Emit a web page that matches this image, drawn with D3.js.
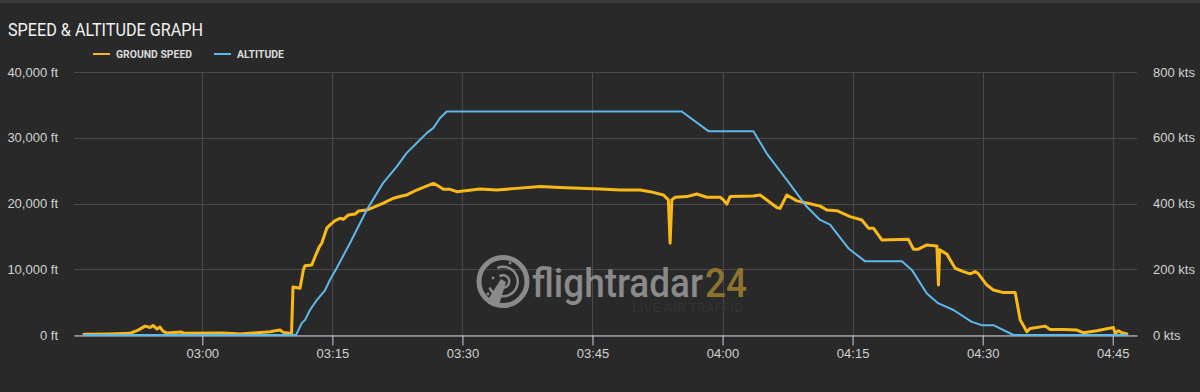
<!DOCTYPE html>
<style>
    body { margin: 0; background: #292929; }
    svg { display: block; font-family: Roboto, "Noto Sans", sans-serif; }
</style>
<svg width="1200" height="392"></svg>
<script src="https://d3js.org/d3.v7.min.js"></script>
<script>

    // times are minutes after 00:00 UTC
    var altTime = [166.35, 190.81, 191.47, 191.85, 192.42, 193.2, 194.15, 194.73, 195.5, 197.04, 198.96,
        200.84, 202.42, 203.58, 204.73, 205.88, 206.65, 207.42, 208.19, 235.3, 238.37, 243.56, 245.1,
        247.41, 249.72, 251.25, 252.4, 254.5, 256.44, 260.68, 261.83, 263.56, 264.9, 266.63, 268.75,
        269.9, 271.24, 273.55, 286.6];
    var altFeet = [0, 0, 1800, 2300, 3800, 5300, 6800, 8400, 10200, 14000, 19000,
        23100, 25600, 27700, 29200, 30700, 31500, 33000, 34000, 34000, 31000, 31000, 27600,
        23600, 19500, 17500, 16800, 13200, 11200, 11200, 9900, 6300, 4800, 3800, 2000,
        1500, 1500, 0, 0];

    var speedTime = [166.35, 169.35, 171.66, 172.59, 173.4, 173.97, 174.32, 174.78, 175.12, 175.46, 175.93,
        177.54, 178.0, 182.5, 184.35, 187.81, 188.96, 189.34, 190.12, 190.29, 190.46, 191.27, 191.65,
        191.85, 192.62, 193.0, 193.5, 193.77, 194.35, 194.73, 195.31, 195.89, 196.26, 196.84, 197.62,
        198.0, 198.96, 199.73, 200.88, 202.03, 203.0, 203.58, 204.73, 205.49, 206.65, 207.04, 207.8,
        208.57, 209.35, 210.11, 212.03, 213.96, 216.27, 218.95, 221.26, 225.87, 228.18, 230.49, 231.64,
        233.18, 233.75, 233.95, 234.15, 234.53, 235.88, 237.03, 238.18, 239.72, 240.1, 240.49, 240.87,
        243.56, 244.33, 246.26, 246.64, 247.41, 248.57, 250.1, 251.25, 252.03, 253.18, 254.71, 256.06,
        256.83, 257.4, 258.37, 261.44, 262.02, 262.59, 263.56, 264.72, 264.9, 265.04, 265.87, 266.83,
        267.78, 268.56, 269.13, 269.51, 270.48, 271.24, 272.4, 273.75, 274.33, 275.1, 275.48, 277.21,
        277.78, 279.32, 280.86, 281.62, 283.17, 285.08, 285.28, 285.66, 286.05, 286.63];
    var speedKts = [2, 3, 5, 15, 27, 23, 29, 18, 24, 12, 6,
        9, 5, 6, 3, 10, 15, 8, 5, 6, 146, 142, 198,
        211, 213, 238, 269, 279, 325, 335, 348, 355, 352, 365, 368,
        377, 380, 388, 401, 416, 423, 426, 441, 449, 461, 456, 443,
        443, 436, 438, 444, 441, 446, 452, 449, 444, 441, 441, 436,
        426, 411, 279, 411, 419, 421, 429, 419, 419, 411, 398, 421,
        423, 426, 388, 385, 426, 408, 399, 392, 380, 378, 360, 350,
        325, 325, 289, 291, 261, 261, 274, 271, 152, 259, 246, 203,
        193, 186, 193, 186, 152, 137, 129, 129, 46, 10, 20, 27,
        17, 17, 15, 7, 13, 23, 5, 13, 7, 3];

    var timeTicks = ["03:00", "03:15", "03:30", "03:45", "04:00", "04:15", "04:30", "04:45"];
    var altTicks = [0, 10000, 20000, 30000, 40000];
    var speedTicks = [0, 200, 400, 600, 800];

    var svg = d3.select("svg");
    var plotLeft = 74, plotRight = 1137, plotTop = 72, plotBottom = 335;

    function toDate(m) { return new Date(Date.UTC(2020, 0, 1) + m * 60000); }
    var parseTick = d3.utcParse("%H:%M");
    function tickDate(s) { var d = parseTick(s); return new Date(Date.UTC(2020, 0, 1, d.getUTCHours(), d.getUTCMinutes())); }

    var x = d3.scaleUtc().domain([toDate(165.2), toDate(287.8)]).range([plotLeft, plotRight]);
    var yAlt = d3.scaleLinear().domain([0, 40000]).range([plotBottom, plotTop]);
    var ySpd = d3.scaleLinear().domain([0, 800]).range([plotBottom, plotTop]);

    svg.append("rect").attr("width", 1200).attr("height", 392).attr("fill", "#292929");
    svg.append("rect").attr("width", 1200).attr("height", 3).attr("fill", "#3a3a3a");

    // title + legend
    svg.append("text").attr("x", 8).attr("y", 36)
        .attr("font-size", 18).attr("fill", "#f2f2f2")
        .attr("textLength", 195).attr("lengthAdjust", "spacingAndGlyphs")
        .text("SPEED & ALTITUDE GRAPH");

    var legend = [
        { name: "GROUND SPEED", color: "#fbb919", x: 93, w: 76 },
        { name: "ALTITUDE", color: "#5fb8ea", x: 214, w: 47 }
    ];
    legend.forEach(function (l) {
        svg.append("line").attr("x1", l.x).attr("x2", l.x + 17).attr("y1", 54).attr("y2", 54)
            .attr("stroke", l.color).attr("stroke-width", 2);
        svg.append("text").attr("x", l.x + 23).attr("y", 57.5)
            .attr("font-size", 10.5).attr("font-weight", "bold").attr("fill", "#d9d9d9")
            .attr("textLength", l.w).attr("lengthAdjust", "spacingAndGlyphs")
            .text(l.name);
    });

    // grid
    var grid = svg.append("g").attr("shape-rendering", "crispEdges");
    grid.selectAll("line.h").data(altTicks).enter().append("line")
        .attr("class", "h")
        .attr("x1", plotLeft).attr("x2", plotRight)
        .attr("y1", function (d) { return Math.round(yAlt(d)) + 0.5; })
        .attr("y2", function (d) { return Math.round(yAlt(d)) + 0.5; })
        .attr("stroke", "#4a4a4a");
    grid.selectAll("line.v").data(timeTicks).enter().append("line")
        .attr("class", "v")
        .attr("x1", function (d) { return Math.round(x(tickDate(d))) + 0.5; })
        .attr("x2", function (d) { return Math.round(x(tickDate(d))) + 0.5; })
        .attr("y1", plotTop).attr("y2", plotBottom)
        .attr("stroke", "#4a4a4a");

    // watermark
    var wm = svg.append("g");
    var wmGray = "#8a8a8a";
    wm.append("circle").attr("cx", 503).attr("cy", 281.5).attr("r", 24)
        .attr("fill", "none").attr("stroke", wmGray).attr("stroke-width", 5);
    wm.append("path").attr("d", d3.arc()({ innerRadius: 13.5, outerRadius: 16, startAngle: -0.4, endAngle: 4.3 }))
        .attr("transform", "translate(503,281.5)").attr("fill", wmGray);
    wm.append("path").attr("d", d3.arc()({ innerRadius: 5, outerRadius: 7.5, startAngle: -0.6, endAngle: 4.0 }))
        .attr("transform", "translate(503,281.5)").attr("fill", wmGray);
    wm.append("path").attr("d", "M501,279 L506,282 L499,305 L487,301 Z").attr("fill", wmGray);
    [[510, 263], [488, 294], [493, 278]].forEach(function (p) {
        wm.append("circle").attr("cx", p[0]).attr("cy", p[1]).attr("r", 1.4).attr("fill", wmGray);
    });
    wm.append("text").attr("x", 532).attr("y", 296.5).attr("font-size", 40).attr("font-weight", 500)
        .attr("fill", wmGray).attr("textLength", 171).attr("lengthAdjust", "spacingAndGlyphs")
        .text("flightradar");
    wm.append("text").attr("x", 705).attr("y", 296.5).attr("font-size", 40).attr("font-weight", 500)
        .attr("fill", "#8c7430").attr("textLength", 42).attr("lengthAdjust", "spacingAndGlyphs")
        .text("24");
    wm.append("text").attr("x", 632).attr("y", 311.5).attr("font-size", 13.5)
        .attr("fill", "#333333").attr("textLength", 111).attr("lengthAdjust", "spacingAndGlyphs")
        .text("LIVE AIR TRAFFIC");

    // axes
    var xAxis = svg.append("g")
        .attr("transform", "translate(0," + (plotBottom + 0.5) + ")")
        .call(d3.axisBottom(x).tickValues(timeTicks.map(tickDate))
            .tickFormat(d3.utcFormat("%H:%M")).tickSize(10).tickSizeOuter(0));
    xAxis.select(".domain").attr("stroke", "#c8d2e4");
    xAxis.selectAll(".tick line").attr("stroke", "#c8d2e4");
    xAxis.selectAll("text").attr("fill", "#d2d2d2").attr("font-size", 13).attr("font-family", null);

    var yLeft = svg.append("g").attr("transform", "translate(" + plotLeft + ",0)")
        .call(d3.axisLeft(yAlt).tickValues(altTicks).tickSize(0).tickPadding(16)
            .tickFormat(function (d) { return d3.format(",")(d) + " ft"; }));
    var yRight = svg.append("g").attr("transform", "translate(" + plotRight + ",0)")
        .call(d3.axisRight(ySpd).tickValues(speedTicks).tickSize(0).tickPadding(16)
            .tickFormat(function (d) { return d + " kts"; }));
    [yLeft, yRight].forEach(function (a) {
        a.select(".domain").remove();
        a.selectAll("text").attr("fill", "#d2d2d2").attr("font-size", 13).attr("font-family", null);
    });

    // series
    var speedLine = d3.line()
        .x(function (d, i) { return x(toDate(speedTime[i])); })
        .y(function (d) { return ySpd(d); });
    var altLine = d3.line()
        .x(function (d, i) { return x(toDate(altTime[i])); })
        .y(function (d) { return yAlt(d); });

    svg.append("path").datum(speedKts)
        .attr("fill", "none").attr("stroke", "#fbb919").attr("stroke-width", 3)
        .attr("stroke-linejoin", "round").attr("stroke-linecap", "round")
        .attr("d", speedLine);
    svg.append("path").datum(altFeet)
        .attr("fill", "none").attr("stroke", "#5fb8ea").attr("stroke-width", 2)
        .attr("stroke-linejoin", "round").attr("stroke-linecap", "round")
        .attr("d", altLine);

</script>
